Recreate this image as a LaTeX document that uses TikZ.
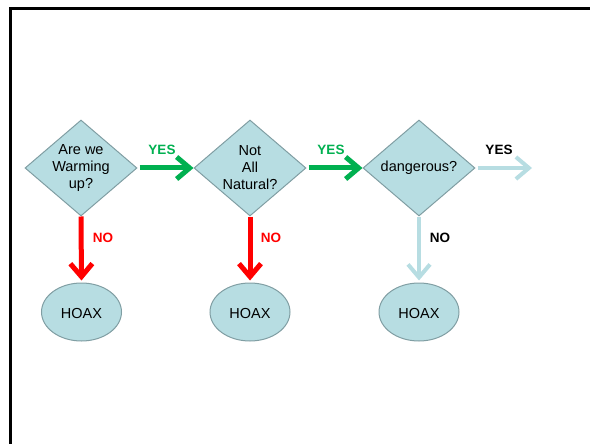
\documentclass[tikz,border=0pt]{standalone}
\usepackage{fontspec}
\setmainfont{Liberation Sans}
\usetikzlibrary{shapes.geometric, arrows.meta}
\definecolor{paleblue}{RGB}{183,221,226}
\definecolor{edgegrey}{RGB}{128,158,163}
\definecolor{green}{RGB}{0,176,80}
\definecolor{red}{RGB}{255,0,0}

\begin{document}
\begin{tikzpicture}[x=1pt, y=-1pt,
    question/.style={diamond,
        fill=paleblue,
        draw=edgegrey,
        line width=1pt,
        aspect=1.1667,
        minimum width=112pt,
        minimum height=96pt,
        inner sep=-2pt,
        align=center,
        font=\fontsize{14.5}{17}\selectfont,
        },
    hoax/.style={ellipse,
        fill=paleblue,
        draw=edgegrey,
        line width=1pt,
        minimum width=80pt,
        minimum height=58pt,
        inner sep=0pt,
        text height=14pt,
        font=\fontsize{14.5}{17}\selectfont,
        },
    answer/.style={font=\bfseries\fontsize{13.5}{16}\selectfont,
        inner sep=0pt,
        },
    arrow_green/.style={draw=green, line width=5pt,
        -{Straight Barb[length=13pt, width=22pt]},
        shorten <=2pt,
        },
    arrow_red/.style={draw=red, line width=5pt,
        -{Straight Barb[length=13pt, width=22pt]},
        shorten >=2pt,
        },
    arrow_pale/.style={draw=paleblue, line width=4pt,
        -{Straight Barb[length=13pt, width=22pt]},
        },
    ]
    \useasboundingbox (0,0) rectangle (590,444);
    \draw[line width=3pt] (10.5,444) -- (10.5,8.5) -- (590,8.5);

    \node[question] (q_warm) at (81,168) {Are we\\Warming\\up?};
    \node[question] (q_natural) at (250,168) {Not\\All\\Natural?};
    \node[question] (q_danger) at (419,168) {dangerous?};

    \node[hoax] (h_warm) at (81.5,312) {HOAX};
    \node[hoax] (h_natural) at (250,312) {HOAX};
    \node[hoax] (h_danger) at (419,312) {HOAX};

    \coordinate (c_end) at (532,168);

    \draw[arrow_green] (q_warm.east) -- (q_natural.west);
    \draw[arrow_green] (q_natural.east) -- (q_danger.west);
    \draw[arrow_pale, shorten <=2pt] (q_danger.east) -- (c_end);

    \draw[arrow_red] (q_warm.south) -- (h_warm.north);
    \draw[arrow_red] (q_natural.south) -- (h_natural.north);
    \draw[arrow_pale, shorten >=2pt] (q_danger.south) -- (h_danger.north);

    \node[answer, text=green] (yes_1) at (162,150) {YES};
    \node[answer, text=green] (yes_2) at (331,150) {YES};
    \node[answer] (yes_3) at (499,150) {YES};
    \node[answer, text=red] (no_1) at (103,238) {NO};
    \node[answer, text=red] (no_2) at (271,238) {NO};
    \node[answer] (no_3) at (440,238) {NO};

\end{tikzpicture}
\end{document}
